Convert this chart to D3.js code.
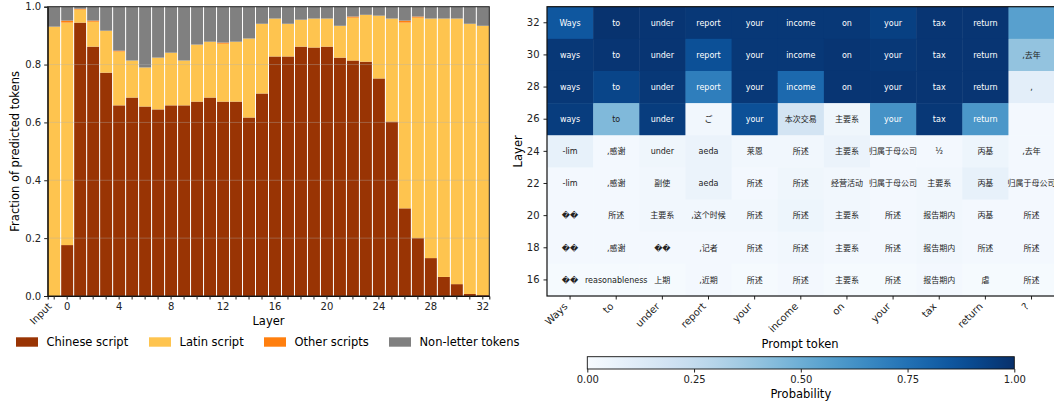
<!DOCTYPE html>
<html>
<head>
<meta charset="utf-8">
<script src="https://cdn.jsdelivr.net/npm/d3@7"></script>
<style>
  body { margin: 0; background: #fff; }
  svg { font-family: "DejaVu Sans", "Noto Sans CJK SC", sans-serif; }
</style>
</head>
<body>
<div id="chart"></div>
<script>
// ---- data: left panel (script fractions per layer) ----
const layerLabels = ["Input"].concat(d3.range(0, 33).map(String));
const chinese = [0.000, 0.176, 0.945, 0.862, 0.772, 0.659, 0.686, 0.655, 0.645, 0.659, 0.659,
                 0.672, 0.686, 0.672, 0.672, 0.617, 0.700, 0.828, 0.828, 0.862, 0.859, 0.862,
                 0.824, 0.814, 0.810, 0.752, 0.603, 0.303, 0.200, 0.131, 0.066, 0.041, 0.007, 0.003];
const latin   = [0.931, 0.769, 0.045, 0.086, 0.145, 0.186, 0.128, 0.135, 0.179, 0.182, 0.155,
                 0.197, 0.193, 0.200, 0.207, 0.273, 0.241, 0.131, 0.113, 0.093, 0.100, 0.097,
                 0.110, 0.148, 0.162, 0.217, 0.356, 0.642, 0.762, 0.828, 0.893, 0.918, 0.934, 0.931];
const other   = [0.000, 0.007, 0.003, 0.004, 0.000, 0.003, 0.000, 0.000, 0.000, 0.000, 0.000,
                 0.000, 0.000, 0.004, 0.000, 0.000, 0.000, 0.000, 0.000, 0.000, 0.000, 0.000,
                 0.000, 0.004, 0.000, 0.000, 0.000, 0.007, 0.004, 0.000, 0.000, 0.000, 0.000, 0.000];
// non-letter is whatever remains up to 1
const nonLetter = chinese.map((c, i) => Math.max(0, 1 - c - latin[i] - other[i]));
const xTickShown = ["Input", "0", "4", "8", "12", "16", "20", "24", "28", "32"];

const seriesNames  = ["Chinese script", "Latin script", "Other scripts", "Non-letter tokens"];
const seriesColors = ["#993404", "#fec44f", "#ff7f0e", "#808080"];

// ---- data: right panel (logit lens heatmap) ----
const promptTokens = ["Ways", "to", "under", "report", "your", "income", "on", "your", "tax", "return", "?"];
const heatLayers = [32, 30, 28, 26, 24, 22, 20, 18, 16];
const R = "\uFFFD\uFFFD";
const cellText = [
  ["Ways", "to", "under", "report", "your", "income", "on", "your", "tax", "return", ""],
  ["ways", "to", "under", "report", "your", "income", "on", "your", "tax", "return", ",去年"],
  ["ways", "to", "under", "report", "your", "income", "on", "your", "tax", "return", ","],
  ["ways", "to", "under", "ご", "your", "本次交易", "主要系", "your", "tax", "return", ""],
  ["-lim", ",感谢", "under", "aeda", "莱恩", "所述", "主要系", "归属于母公司", "½", "丙基", ",去年"],
  ["-lim", ",感谢", "副使", "aeda", "所述", "所述", "经营活动", "归属于母公司", "主要系", "丙基", "归属于母公司"],
  [R, "所述", "主要系", ",这个时候", "所述", "所述", "主要系", "所述", "报告期内", "丙基", "所述"],
  [R, ",感谢", R, ",记者", "所述", "所述", "主要系", "所述", "报告期内", "所述", "所述"],
  [R, "reasonableness", "上期", ",近期", "所述", "所述", "主要系", "所述", "报告期内", "虐", "所述"]
];
const cellProb = [
  [0.85, 0.99, 0.98, 0.97, 0.97, 0.97, 0.97, 0.94, 0.98, 0.98, 0.56],
  [0.97, 0.98, 0.98, 0.88, 0.97, 0.97, 0.98, 0.97, 0.98, 0.98, 0.40],
  [0.97, 0.92, 0.97, 0.70, 0.97, 0.78, 0.98, 0.98, 0.98, 0.98, 0.10],
  [0.95, 0.45, 0.95, 0.03, 0.88, 0.18, 0.04, 0.62, 0.97, 0.60, 0.02],
  [0.08, 0.02, 0.04, 0.06, 0.03, 0.03, 0.06, 0.02, 0.02, 0.05, 0.02],
  [0.02, 0.02, 0.03, 0.06, 0.02, 0.04, 0.03, 0.02, 0.03, 0.08, 0.02],
  [0.02, 0.02, 0.03, 0.03, 0.03, 0.05, 0.03, 0.02, 0.03, 0.02, 0.02],
  [0.02, 0.02, 0.02, 0.02, 0.02, 0.03, 0.02, 0.02, 0.03, 0.02, 0.02],
  [0.01, 0.01, 0.01, 0.02, 0.01, 0.02, 0.01, 0.01, 0.02, 0.01, 0.01]
];
const cbarTicks = [0, 0.25, 0.5, 0.75, 1];

const W = 1054, H = 402;
const svg = d3.select("#chart").append("svg").attr("width", W).attr("height", H);

// ================= left panel =================
const L = {left: 47.7, right: 489.3, top: 6.7, bottom: 296};
const x = d3.scaleBand().domain(d3.range(layerLabels.length)).range([L.left, L.right]).padding(0);
const y = d3.scaleLinear().domain([0, 1]).range([L.bottom, L.top]);

const rows = chinese.map((c, i) => ({i, c, l: latin[i], o: other[i], n: nonLetter[i]}));
const stacked = d3.stack().keys(["c", "l", "o", "n"])(rows);

const left = svg.append("g");
left.selectAll("g.series")
  .data(stacked)
  .enter().append("g")
  .attr("fill", (d, k) => seriesColors[k])
  .selectAll("rect")
  .data(d => d)
  .enter().append("rect")
  .attr("x", d => x(d.data.i))
  .attr("width", x.bandwidth())
  .attr("y", d => y(d[1]))
  .attr("height", d => Math.max(0, y(d[0]) - y(d[1])));

// white separators between bars
left.selectAll("line.sep")
  .data(d3.range(1, layerLabels.length))
  .enter().append("line")
  .attr("x1", i => x(i)).attr("x2", i => x(i))
  .attr("y1", L.top).attr("y2", L.bottom)
  .attr("stroke", "#fff").attr("stroke-width", 1);

// grid
left.selectAll("line.grid")
  .data([0.2, 0.4, 0.6, 0.8])
  .enter().append("line")
  .attr("x1", L.left).attr("x2", L.right)
  .attr("y1", d => y(d)).attr("y2", d => y(d))
  .attr("stroke", "#b0b0b0").attr("stroke-opacity", 0.45).attr("stroke-width", 0.8);

// axes
const yAxisL = d3.axisLeft(y).tickValues([0, 0.2, 0.4, 0.6, 0.8, 1]).tickFormat(d3.format(".1f")).tickSize(3.5);
left.append("g").attr("transform", `translate(${L.left},0)`).call(yAxisL);

const xAxisL = d3.axisBottom(x).tickSize(3.5)
  .tickFormat(i => xTickShown.includes(layerLabels[i]) ? layerLabels[i] : "");
const gx = left.append("g").attr("transform", `translate(0,${L.bottom})`).call(xAxisL);
gx.selectAll(".tick text").filter(i => i === 0)
  .attr("text-anchor", "end").attr("dy", 0).attr("x", 0).attr("y", 0)
  .attr("transform", "translate(-2,11) rotate(-45)");

left.append("rect")
  .attr("x", L.left).attr("y", L.top)
  .attr("width", L.right - L.left).attr("height", L.bottom - L.top)
  .attr("fill", "none").attr("stroke", "#222").attr("stroke-width", 1);

left.append("text").attr("x", (L.left + L.right) / 2).attr("y", 325)
  .attr("text-anchor", "middle").attr("font-size", 11.5).text("Layer");
left.append("text")
  .attr("transform", `translate(19,${(L.top + L.bottom) / 2}) rotate(-90)`)
  .attr("text-anchor", "middle").attr("font-size", 11.5).text("Fraction of predicted tokens");

// legend
const legendX = [16, 149, 264, 389];
const leg = left.selectAll("g.leg").data(seriesNames).enter().append("g")
  .attr("transform", (d, k) => `translate(${legendX[k]},342)`);
leg.append("rect").attr("x", 0).attr("y", -4.7).attr("width", 22).attr("height", 9.4)
  .attr("fill", (d, k) => seriesColors[k]);
leg.append("text").attr("x", 30.5).attr("y", 4.3).attr("font-size", 11.5).text(d => d);

// ================= right panel =================
const Rp = {left: 547, right: 1054.6, top: 6.7, bottom: 296};
const hx = d3.scaleBand().domain(d3.range(promptTokens.length)).range([Rp.left, Rp.right]);
const hy = d3.scaleBand().domain(heatLayers).range([Rp.top, Rp.bottom]);
const color = d3.scaleSequential(d3.interpolateBlues).domain([0, 1]);

const cells = [];
heatLayers.forEach((layer, r) => promptTokens.forEach((tok, c) =>
  cells.push({layer, c, p: cellProb[r][c], t: cellText[r][c]})));

const right = svg.append("g");
right.selectAll("rect.cell").data(cells).enter().append("rect")
  .attr("x", d => hx(d.c)).attr("y", d => hy(d.layer))
  .attr("width", hx.bandwidth() + 0.5).attr("height", hy.bandwidth() + 0.5)
  .attr("fill", d => color(d.p));
right.selectAll("text.cell").data(cells).enter().append("text")
  .attr("x", d => hx(d.c) + hx.bandwidth() / 2)
  .attr("y", d => hy(d.layer) + hy.bandwidth() / 2)
  .attr("dy", "0.35em").attr("text-anchor", "middle")
  .attr("font-size", 8)
  .attr("fill", d => d.p > 0.5 ? "#fff" : "#222")
  .text(d => d.t);

right.append("g").attr("transform", `translate(${Rp.left},0)`)
  .call(d3.axisLeft(hy).tickSize(3.5).tickPadding(4))
  .call(g => g.select(".domain").remove());
const hgx = right.append("g").attr("transform", `translate(0,${Rp.bottom})`)
  .call(d3.axisBottom(hx).tickSize(3.5).tickFormat(i => promptTokens[i]))
  .call(g => g.select(".domain").remove());
hgx.selectAll(".tick text")
  .attr("text-anchor", "end").attr("dy", 0).attr("x", 0).attr("y", 0)
  .attr("transform", "translate(-2,11) rotate(-45)");

right.append("rect")
  .attr("x", Rp.left).attr("y", Rp.top)
  .attr("width", Rp.right - Rp.left).attr("height", Rp.bottom - Rp.top)
  .attr("fill", "none").attr("stroke", "#111").attr("stroke-width", 1.2);

right.append("text").attr("x", 800).attr("y", 348)
  .attr("text-anchor", "middle").attr("font-size", 11.5).text("Prompt token");
right.append("text")
  .attr("transform", `translate(522,${(Rp.top + Rp.bottom) / 2}) rotate(-90)`)
  .attr("text-anchor", "middle").attr("font-size", 11.5).text("Layer");

// colorbar
const cb = {left: 587.3, right: 1014.3, top: 356.7, bottom: 369};
const cx = d3.scaleLinear().domain([0, 1]).range([cb.left, cb.right]);
const grad = svg.append("defs").append("linearGradient").attr("id", "blues");
d3.range(0, 1.0001, 0.05).forEach(t =>
  grad.append("stop").attr("offset", t).attr("stop-color", color(t)));
right.append("rect")
  .attr("x", cb.left).attr("y", cb.top)
  .attr("width", cb.right - cb.left).attr("height", cb.bottom - cb.top)
  .attr("fill", "url(#blues)").attr("stroke", "#111").attr("stroke-width", 0.9);
right.append("g").attr("transform", `translate(0,${cb.bottom})`)
  .call(d3.axisBottom(cx).tickValues(cbarTicks).tickFormat(d3.format(".2f")).tickSize(3.5))
  .call(g => g.select(".domain").remove());
right.append("text").attr("x", (cb.left + cb.right) / 2).attr("y", 398)
  .attr("text-anchor", "middle").attr("font-size", 11.5).text("Probability");

svg.selectAll(".tick text").attr("font-size", 10).attr("fill", "#222")
  .attr("font-family", "DejaVu Sans, sans-serif");
svg.selectAll(".tick line").attr("stroke", "#222");
</script>
</body>
</html>
